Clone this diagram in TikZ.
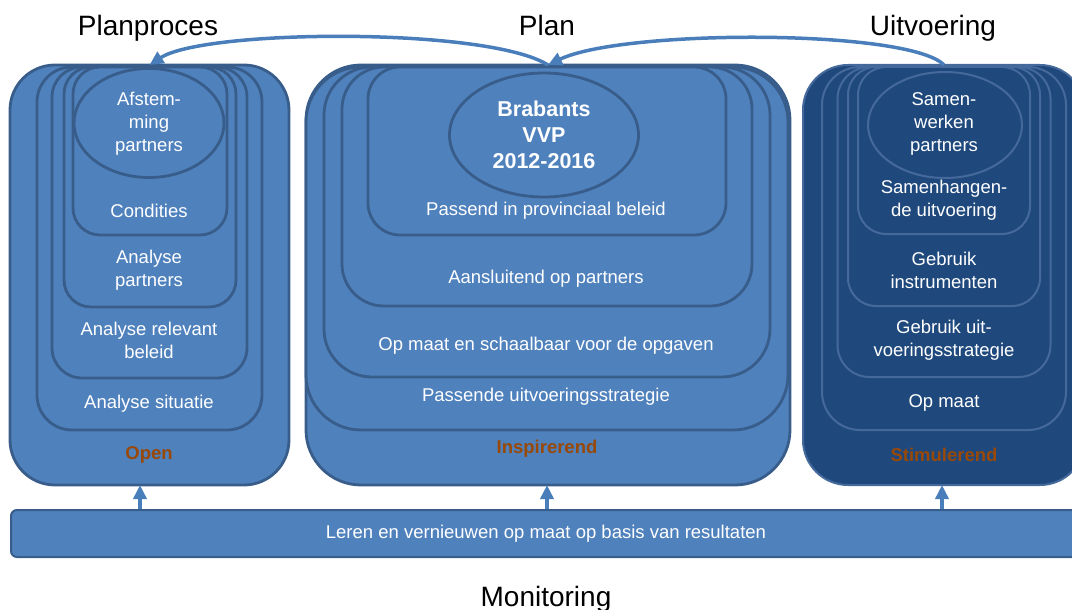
\documentclass[tikz,border=0pt]{standalone}
\usepackage{fontspec}
\setmainfont{Liberation Sans}
\usetikzlibrary{arrows.meta,shapes.geometric,calc}
\definecolor{fillb}{HTML}{4F81BD}
\definecolor{lineb}{HTML}{385D8A}
\definecolor{filld}{HTML}{1F497D}
\definecolor{lined}{HTML}{46699C}
\definecolor{arrowc}{HTML}{4A7EBB}
\definecolor{orng}{HTML}{984807}
\begin{document}
\begin{tikzpicture}[x=1pt,y=-1pt,
  layer/.style={draw=lineb, fill=fillb, line width=2.8pt, anchor=north, inner sep=0pt, outer sep=0pt},
  dlayer/.style={draw=lined, fill=filld, line width=2pt, anchor=north, inner sep=0pt, outer sep=0pt},
  oval/.style={ellipse, draw=lineb, fill=fillb, line width=2.8pt, inner sep=0pt},
  doval/.style={ellipse, draw=lined, fill=filld, line width=2pt, inner sep=0pt},
  lbl/.style={text=white, align=center, font=\fontsize{18.5}{23}\selectfont, inner sep=0pt},
  blbl/.style={text=white, align=center, font=\bfseries\fontsize{21.5}{26}\selectfont, inner sep=0pt},
  olbl/.style={text=orng, font=\bfseries\fontsize{18.5}{23}\selectfont, inner sep=0pt},
  ttl/.style={text=black, font=\fontsize{28}{32}\selectfont, inner sep=0pt, anchor=base},
  arr/.style={draw=arrowc, line width=3.5pt, -{Triangle[length=14pt,width=13pt]}}
]
\useasboundingbox (0,0) rectangle (1072,610);
\clip (0,0) rectangle (1072,610);

% Titles
\node[ttl] (tplanp) at (148,36) {Planproces};
\node[ttl] (tplan) at (547,36) {Plan};
\node[ttl] (tuitv) at (933,36) {Uitvoering};
\node[ttl] (tmon) at (546,606) {Monitoring};

% Left column
\node[layer, rounded corners=45pt, minimum width=279pt, minimum height=420pt] (L1) at (149.5,65) {};
\node[layer, rounded corners=35pt, minimum width=225pt, minimum height=363pt] (L2) at (149.5,67) {};
\node[layer, rounded corners=30pt, minimum width=195pt, minimum height=311pt] (L3) at (149.5,67) {};
\node[layer, rounded corners=27pt, minimum width=172pt, minimum height=240pt] (L4) at (150,67) {};
\node[layer, rounded corners=27pt, minimum width=154pt, minimum height=168pt] (L5) at (150,67) {};
\node[oval, minimum width=150pt, minimum height=109pt] (LE) at (149,123) {};
\node[lbl] (l1) at (149,124) {Afstem-\\ming\\partners};
\node[lbl] (l2) at (149,211) {Condities};
\node[lbl] (l3) at (149,270) {Analyse\\partners};
\node[lbl] (l4) at (149,340) {Analyse relevant\\beleid};
\node[lbl] (l5) at (149,404) {Analyse situatie};
\node[olbl] (l6) at (149,455) {Open};

% Center column
\node[layer, rounded corners=55pt, minimum width=484pt, minimum height=420pt] (C1) at (548,65) {};
\node[layer, rounded corners=55pt, minimum width=482pt, minimum height=363pt] (C2) at (547,67) {};
\node[layer, rounded corners=48pt, minimum width=446pt, minimum height=310pt] (C3) at (547,67) {};
\node[layer, rounded corners=42pt, minimum width=410pt, minimum height=239pt] (C4) at (547,67) {};
\node[layer, rounded corners=32pt, minimum width=358pt, minimum height=168pt] (C5) at (547,67) {};
\node[oval, minimum width=189pt, minimum height=124pt] (CE) at (544,135) {};
\node[blbl] (c1) at (544,135) {Brabants\\VVP\\2012-2016};
\node[lbl] (c2) at (546,211) {Passend in provinciaal beleid};
\node[lbl] (c3) at (546,279) {Aansluitend op partners};
\node[lbl] (c4) at (546,346) {Op maat en schaalbaar voor de opgaven};
\node[lbl] (c5) at (546,397) {Passende uitvoeringsstrategie};
\node[olbl] (c6) at (547,449) {Inspirerend};

% Right column
\node[dlayer, rounded corners=45pt, minimum width=282pt, minimum height=420pt] (R1) at (944,65) {};
\node[dlayer, rounded corners=38pt, minimum width=244pt, minimum height=363pt] (R2) at (944,67) {};
\node[dlayer, rounded corners=32pt, minimum width=213pt, minimum height=310pt] (R3) at (944,67) {};
\node[dlayer, rounded corners=28pt, minimum width=192pt, minimum height=239pt] (R4) at (944,67) {};
\node[dlayer, rounded corners=28pt, minimum width=172pt, minimum height=167pt] (R5) at (944,67) {};
\node[doval, minimum width=154pt, minimum height=106pt] (RE) at (945,125) {};
\node[lbl] (r1) at (944,124) {Samen-\\werken\\partners};
\node[lbl] (r2) at (944,200) {Samenhangen-\\de uitvoering};
\node[lbl] (r3) at (944,270) {Gebruik\\instrumenten};
\node[lbl] (r4) at (944,340) {Gebruik uit-\\voeringsstrategie};
\node[lbl] (r5) at (944,403) {Op maat};
\node[olbl] (r6) at (944,455) {Stimulerend};

% Bottom bar
\node[draw=lineb, fill=fillb, line width=2pt, rounded corners=6pt, minimum width=1090pt, minimum height=47pt, inner sep=0pt, anchor=north west] (bar) at (10,509) {};
\node[lbl] (bt) at (546,534) {Leren en vernieuwen op maat op basis van resultaten};

% Vertical arrows
\coordinate (m1) at (140,0);
\coordinate (m2) at (547,0);
\coordinate (m3) at (942,0);
\draw[arr] (m1 |- bar.north) -- (m1 |- L1.south);
\draw[arr] (m2 |- bar.north) -- (m2 |- C1.south);
\draw[arr] (m3 |- bar.north) -- (m3 |- R1.south);

% Top arrows
\draw[arr] (C1.north) .. controls ($(C1.north)+(-60,-38)$) and ($(L1.north)+(55,-36)$) .. (L1.north);
\draw[arr] (R1.north) .. controls ($(R1.north)+(-35,-36)$) and ($(C1.north)+(75,-36)$) .. (C1.north);
\end{tikzpicture}
\end{document}
